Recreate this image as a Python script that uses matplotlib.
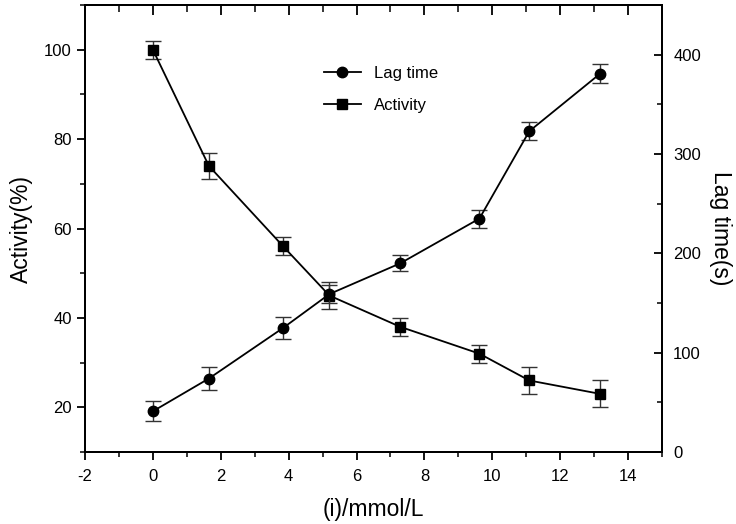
import matplotlib
matplotlib.use("Agg")
import matplotlib.pyplot as plt
from matplotlib.ticker import MultipleLocator

plt.rcParams['font.family'] = ['Liberation Sans', 'DejaVu Sans']
plt.rcParams['axes.unicode_minus'] = False

conc = [0, 1.65, 3.84, 5.2, 7.29, 9.62, 11.09, 13.18]
activity = [100, 74, 56, 45, 38, 32, 26, 23]
activity_err = [2, 3, 2, 3, 2, 2, 3, 3]
lag_time = [41, 74, 125, 159, 190, 235, 323, 381]
lag_err = [10, 12, 11, 9, 8, 9, 9, 10]

rect = [0.1155, 0.1374, 0.784, 0.853]
fig = plt.figure(figsize=(7.36, 5.24), dpi=100)
ax = fig.add_axes(rect)
ax2 = ax.twinx()

ebkw = dict(color='black', ecolor='#333333', elinewidth=1.0, capsize=6, capthick=1.0, lw=1.3)
h_act = ax.errorbar(conc, activity, yerr=activity_err, marker='s', ms=7, label='Activity', **ebkw)
h_lag = ax2.errorbar(conc, lag_time, yerr=lag_err, marker='o', ms=7.5, label='Lag time', **ebkw)

ax.set_xlim(-2, 15)
ax.set_ylim(10, 110)
ax2.set_ylim(0, 450)

ax.xaxis.set_major_locator(MultipleLocator(2))
ax.xaxis.set_minor_locator(MultipleLocator(1))
ax.yaxis.set_major_locator(MultipleLocator(20))
ax.yaxis.set_minor_locator(MultipleLocator(10))
ax2.yaxis.set_major_locator(MultipleLocator(100))
ax2.yaxis.set_minor_locator(MultipleLocator(50))

ax.tick_params(axis='x', which='both', direction='out', bottom=True, top=False, labelsize=12, pad=6)
ax.tick_params(axis='y', which='both', direction='out', left=True, right=False, labelsize=12)
ax.tick_params(which='major', length=6, width=1.3)
ax.tick_params(which='minor', length=3.5, width=1.1)
ax2.tick_params(axis='y', which='both', direction='in', right=True, left=False, labelsize=12, pad=8)
ax2.tick_params(axis='y', which='major', length=6, width=1.3)
ax2.tick_params(axis='y', which='minor', length=3.5, width=1.1)

# mirrored top ticks (pointing inward) via the twin's x axis
ax2.xaxis.set_visible(True)
ax2.xaxis.set_tick_params(which='both', direction='in', top=True, bottom=False,
                          labeltop=False, labelbottom=False, color='black')
ax2.xaxis.set_tick_params(which='major', length=7.5, width=1.3)
ax2.xaxis.set_tick_params(which='minor', length=5, width=1.1)

for a in (ax, ax2):
    for s in a.spines.values():
        s.set_linewidth(1.4)

ax.set_xlabel('(i)/mmol/L', fontsize=16.5, labelpad=10)
ax.set_ylabel('Activity(%)', fontsize=16.5, labelpad=8)
ax2.set_ylabel('Lag time(s)', fontsize=16.5, rotation=270, labelpad=22)

ax2.legend([h_lag.lines[0], h_act.lines[0]], ['Lag time', 'Activity'], loc='upper left',
           bbox_to_anchor=(0.394, 0.89), frameon=False, fontsize=12,
           handlelength=2.2, labelspacing=1.0, borderpad=0.2)

fig.savefig('out.png', dpi=100)
